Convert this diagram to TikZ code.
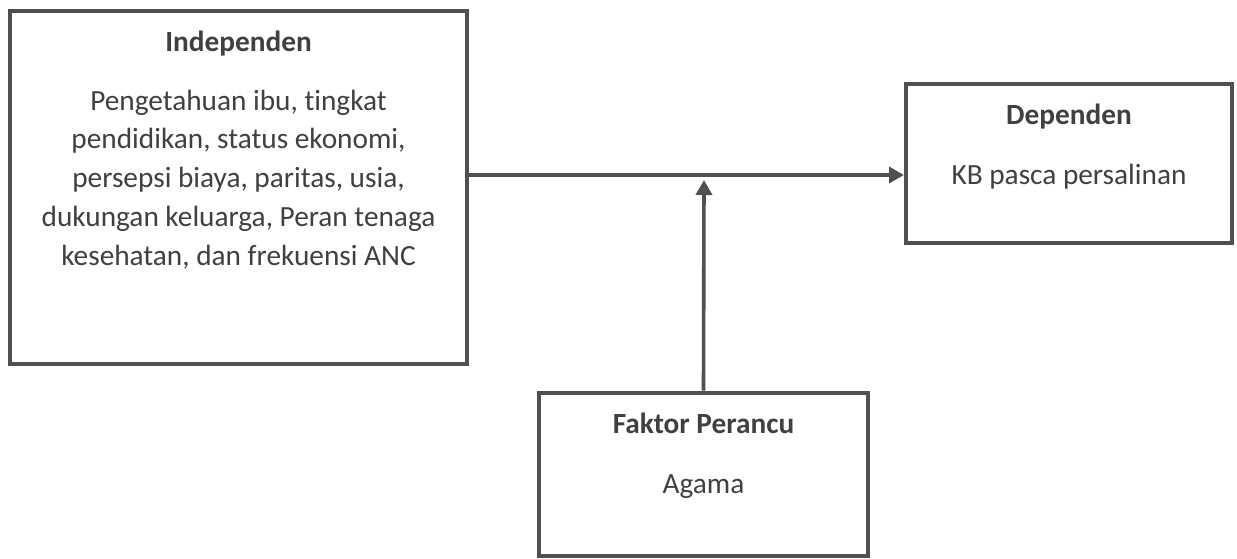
\documentclass[tikz,border=0pt]{standalone}
\usepackage{fontspec}
\setmainfont{Carlito}[Ligatures=NoCommon]
\usetikzlibrary{arrows.meta}
\definecolor{boxgray}{HTML}{505050}
\definecolor{textgray}{HTML}{404040}
\tikzset{
	varbox/.style={draw=boxgray, line width=4pt, rectangle, inner sep=0pt},
	vartext/.style={anchor=base, text=textgray, align=center, font=\fontsize{29.3}{38.7}\selectfont},
	varhead/.style={vartext, font=\fontsize{29.3}{38.7}\selectfont\bfseries},
	link/.style={draw=boxgray, line width=3.6pt, -{Triangle[length=15pt,width=16pt]}}
}
\begin{document}
\begin{tikzpicture}[x=1pt, y=-1pt]
		\useasboundingbox (0,0) rectangle (1237,559);

		\node[varbox, minimum width=457pt, minimum height=353pt] (indep) at (238.5,187.5) {};
		\node[varbox, minimum width=326pt, minimum height=158pt] (dep) at (1069,163.5) {};
		\node[varbox, minimum width=329pt, minimum height=163pt] (conf) at (703.5,474) {};

		\node[varhead] (indeptitle) at (238.5,52) {Independen};
		% base of a multi-line node is its last line
		\node[vartext] (indepbody) at (238.5,265) {Pengetahuan ibu, tingkat\\pendidikan, status ekonomi,\\persepsi biaya, paritas, usia,\\dukungan keluarga, Peran tenaga\\kesehatan, dan frekuensi ANC};

		\node[varhead] (deptitle) at (1069,125) {Dependen};
		\node[vartext] (depbody) at (1069,185) {KB pasca persalinan};

		\node[varhead] (conftitle) at (703.5,433) {Faktor Perancu};
		\node[vartext] (confbody) at (703.5,493) {Agama};

		\coordinate (mid) at (704,175);
		\coordinate (tip) at (704,180);

		\draw[link] (indep.east |- mid) -- (dep.west |- mid);
		\draw[link] (conf.north) -- (tip);
	\end{tikzpicture}
\end{document}
